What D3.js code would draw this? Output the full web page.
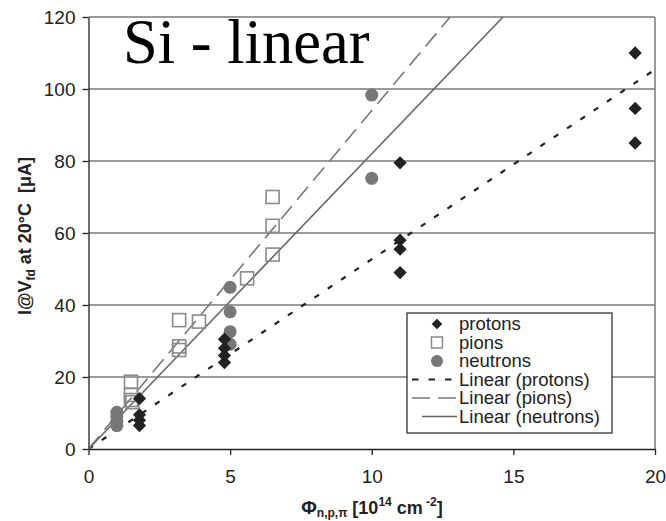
<!DOCTYPE html>
<html><head><meta charset="utf-8">
<script src="https://cdn.jsdelivr.net/npm/d3@7"></script>
<style>
html,body{margin:0;padding:0;background:#fff;}
svg{display:block;font-family:"Liberation Sans",Arial,Helvetica,sans-serif;}
</style></head>
<body>
<svg id="chart" width="666" height="521"></svg>
<script>
// ---- data ----
const protonX = [1.8, 1.8, 1.8, 1.8, 4.8, 4.8, 4.8, 4.8, 11, 11, 11, 11, 19.3, 19.3, 19.3];
const protonY = [14, 9.5, 8, 6.5, 30.5, 28, 26, 24, 79.5, 58, 55.5, 49, 110, 94.6, 85];
const pionX = [1.5, 1.5, 1.5, 1.55, 3.2, 3.2, 3.2, 3.9, 5.6, 6.5, 6.5, 6.5];
const pionY = [18.7, 15, 13.6, 13, 35.8, 28.5, 27.5, 35.4, 47.4, 70, 62, 54];
const neutronX = [1, 1, 1, 1, 5, 5, 5, 5, 10, 10];
const neutronY = [10.2, 9, 7.5, 6.5, 44.9, 38.1, 32.6, 29.1, 98.3, 75.2];
const trendNames = ["Linear (protons)", "Linear (pions)", "Linear (neutrons)"];
const trendSlopes = [5.27, 9.4, 8.2];
const xTicks = [0, 5, 10, 15, 20];
const yTicks = [0, 20, 40, 60, 80, 100, 120];
const legendLabels = ["protons", "pions", "neutrons"];
const titleText = "Si - linear";

// ---- drawing ----
const svg = d3.select("#chart");
const L = 88.5, R = 655, T = 17, B = 449;
const x = d3.scaleLinear().domain([0, 20]).range([L, R]);
const y = d3.scaleLinear().domain([0, 120]).range([B, T]);

// gridlines
svg.append("g").selectAll("line").data(yTicks.filter(d => d > 0)).join("line")
  .attr("x1", L).attr("x2", R).attr("y1", d => y(d)).attr("y2", d => y(d))
  .attr("stroke", d => d === 120 ? "#333" : "#7a7a7a").attr("stroke-width", d => d === 120 ? 1 : 1.5);
svg.append("line").attr("x1", R).attr("x2", R).attr("y1", T).attr("y2", B)
  .attr("stroke", "#7a7a7a").attr("stroke-width", 1.5);

// axes
const yAxis = svg.append("g").attr("transform", `translate(${L},0)`)
  .call(d3.axisLeft(y).tickValues(yTicks).tickSizeInner(6).tickSizeOuter(0).tickPadding(7));
const xAxis = svg.append("g").attr("transform", `translate(0,${B})`)
  .call(d3.axisBottom(x).tickValues(xTicks).tickSizeInner(6).tickSizeOuter(0).tickPadding(15));
[yAxis, xAxis].forEach(g => {
  g.selectAll("path,line").attr("stroke", "#222").attr("stroke-width", 1.3);
  g.selectAll("text").attr("font-size", 19).attr("fill", "#222")
    .attr("font-family", "'Liberation Sans',Arial,sans-serif");
});

// trend lines
const dashes = ["5.5,10.5", "17,8", null];
const tColors = ["#222", "#777", "#666"];
const tWidths = [2.2, 1.6, 1.6];
trendSlopes.forEach((s, i) => {
  const xEnd = Math.min(20, 120 / s);
  svg.append("line")
    .attr("x1", x(0)).attr("y1", y(0)).attr("x2", x(xEnd)).attr("y2", y(s * xEnd))
    .attr("stroke", tColors[i]).attr("stroke-width", tWidths[i])
    .attr("stroke-dasharray", dashes[i]);
});

// markers
const diamond = d3.symbol().type(d3.symbolSquare).size(88);
function drawDiamond(g, cx, cy, k) {
  g.append("path").attr("d", diamond())
    .attr("transform", `translate(${cx},${cy}) rotate(45) scale(${k || 1})`).attr("fill", "#222");
}
function drawSquare(g, cx, cy) {
  g.append("rect").attr("x", cx - 6.5).attr("y", cy - 6.5).attr("width", 13).attr("height", 13)
    .attr("fill", "none").attr("stroke", "#8a8a8a").attr("stroke-width", 1.6);
}
function drawCircle(g, cx, cy) {
  g.append("circle").attr("cx", cx).attr("cy", cy).attr("r", 6.5).attr("fill", "#777");
}
const gm = svg.append("g");
pionX.forEach((v, i) => drawSquare(gm, x(v), y(pionY[i])));
neutronX.forEach((v, i) => drawCircle(gm, x(v), y(neutronY[i])));
protonX.forEach((v, i) => drawDiamond(gm, x(v), y(protonY[i])));

// title
svg.append("text").attr("x", 123).attr("y", 63)
  .attr("font-family", "'Liberation Serif','Times New Roman',serif")
  .attr("font-size", 62.5).attr("fill", "#000").text(titleText);

// legend
const lg = svg.append("g");
lg.append("rect").attr("x", 407).attr("y", 313).attr("width", 205).attr("height", 120)
  .attr("fill", "#fff").attr("stroke", "#222").attr("stroke-width", 1.2);
const rowY = [324, 342.5, 361, 379.5, 398, 416.5];
drawDiamond(lg, 437, rowY[0], 0.8);
lg.append("rect").attr("x", 431.5).attr("y", rowY[1] - 5.5).attr("width", 11).attr("height", 11)
  .attr("fill", "none").attr("stroke", "#8a8a8a").attr("stroke-width", 1.5);
lg.append("circle").attr("cx", 437).attr("cy", rowY[2]).attr("r", 6).attr("fill", "#777");
trendNames.forEach((n, i) => {
  lg.append("line").attr("x1", i === 2 ? 422 : 412).attr("x2", 457)
    .attr("y1", rowY[3 + i]).attr("y2", rowY[3 + i])
    .attr("stroke", tColors[i]).attr("stroke-width", tWidths[i])
    .attr("stroke-dasharray", i === 0 ? "6.5,10" : (i === 1 ? "18,8" : null));
});
legendLabels.concat(trendNames).forEach((t, i) => {
  lg.append("text").attr("x", 459).attr("y", rowY[i]).attr("dy", "0.35em")
    .attr("font-size", 18.5).attr("fill", "#222").text(t);
});

// y axis label
const yl = svg.append("text").attr("transform", "translate(31,236) rotate(-90)")
  .attr("text-anchor", "middle").attr("font-weight", "bold").attr("font-size", 18)
  .attr("fill", "#222");
yl.append("tspan").text("I@V");
yl.append("tspan").attr("font-size", 12).attr("dy", 4).text("fd");
yl.append("tspan").attr("dy", -4).text(" at 20°C\u00a0\u00a0[μA]");

// x axis label
const xl = svg.append("text").attr("x", 372).attr("y", 514)
  .attr("text-anchor", "middle").attr("font-weight", "bold").attr("font-size", 18).attr("fill", "#222");
xl.append("tspan").attr("font-size", 19).text("Φ");
xl.append("tspan").attr("font-size", 12).attr("dy", 3).text("n,p,π");
xl.append("tspan").attr("dy", -3).text(" [10");
xl.append("tspan").attr("font-size", 12).attr("dy", -8).text("14");
xl.append("tspan").attr("dy", 8).text(" cm");
xl.append("tspan").attr("font-size", 12).attr("dy", -8).text(" -2");
xl.append("tspan").attr("dy", 8).text("]");
</script>
</body></html>
